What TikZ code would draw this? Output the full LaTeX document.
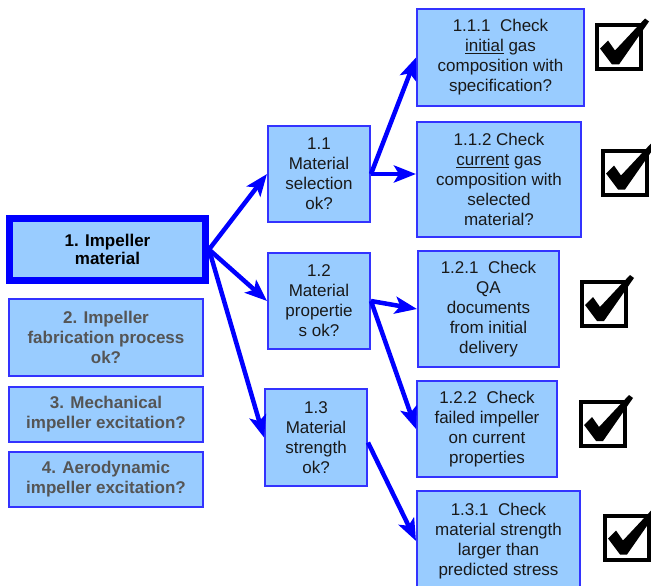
\documentclass[tikz,border=0pt]{standalone}
\usepackage{fontspec}
\setmainfont{Liberation Sans}
\usetikzlibrary{arrows.meta}

\definecolor{boxfill}{HTML}{99CCFF}
\definecolor{boxline}{HTML}{3333FF}
\definecolor{arrblue}{HTML}{0000FF}
\definecolor{greytext}{HTML}{555555}

\tikzset{
    box/.style={draw=boxline, fill=boxfill, line width=2pt, align=center, inner sep=0pt,
        text=black!90, font=\fontsize{17}{20}\selectfont},
    topbox/.style={box, draw=arrblue, line width=7pt, text=black, font=\bfseries\fontsize{17}{18.5}\selectfont},
    sidebox/.style={box, text=greytext, font=\bfseries\fontsize{17}{20}\selectfont},
    arr/.style={draw=arrblue, line width=4.5pt, -{Stealth[length=22pt, width=17pt, inset=5pt]}},
    chkbox/.style={draw=black, line width=4pt, minimum size=44pt, inner sep=0pt},
}

\begin{document}
\begin{tikzpicture}[x=1pt, y=-1pt]
    \useasboundingbox (0,0) rectangle (651,586);

    % left column
    \node[topbox, minimum width=196, minimum height=62] (imp1) at (107.5,249.5) {1. Impeller\\material};
    \node[sidebox, minimum width=194, minimum height=77] (imp2) at (106,337.5) {2. Impeller\\fabrication process\\ok?};
    \node[sidebox, minimum width=194, minimum height=55] (imp3) at (106,414.5) {3. Mechanical\\impeller excitation?};
    \node[sidebox, minimum width=194, minimum height=55] (imp4) at (106,479.5) {4. Aerodynamic\\impeller excitation?};

    % middle column
    \node[box, minimum width=102, minimum height=96] (sel) at (319,174) {1.1\\Material\\selection\\ok?};
    \node[box, minimum width=102, minimum height=96] (prop) at (319,301) {1.2\\Material\\propertie\\s ok?};
    \node[box, minimum width=102, minimum height=97] (str) at (316,437.5) {1.3\\Material\\strength\\ok?};

    % right column
    \node[box, minimum width=167, minimum height=97] (ini) at (500.5,57.5) {1.1.1\ \ Check\\\underline{initial} gas\\composition with\\specification?};
    \node[box, minimum width=164, minimum height=115] (cur) at (499,179.5) {1.1.2 Check\\\underline{current} gas\\composition with\\selected\\material?};
    \node[box, minimum width=141, minimum height=116] (qa) at (488.5,309) {1.2.1\ \ Check\\QA\\documents\\from initial\\delivery};
    \node[box, minimum width=140, minimum height=96] (fail) at (487,429) {1.2.2\ \ Check\\failed impeller\\on current\\properties};
    \node[box, minimum width=163, minimum height=100] (pred) at (498.5,541) {1.3.1\ \ Check\\material strength\\larger than\\predicted stress};

    % arrows
    \draw[arr] (imp1.east) -- (sel.west);
    \draw[arr] (imp1.east) -- (prop.west);
    \draw[arr] (imp1.east) -- (str.west);
    \draw[arr] (sel.east) -- (ini.west);
    \draw[arr] (sel.east) -- (cur.west |- sel.east);
    \draw[arr] (prop.east) -- (qa.west);
    \draw[arr] (prop.east) -- (fail.west);
    \draw[arr] ([yshift=-5]str.east) -- (pred.west);

    % ticked boxes
    \node[chkbox] (chk1) at (619,47.5) {};
    \node[chkbox] (chk2) at (625,172.5) {};
    \node[chkbox] (chk3) at (604,304) {};
    \node[chkbox] (chk4) at (603,424) {};
    \node[chkbox] (chk5) at (627,537.5) {};
    \foreach \i in {1,...,5}
        \fill[black, shift={(chk\i.north west)}] (5,25) -- (13,17) -- (20,27) -- (50,-5)
            -- (54,-2) -- (24,41) -- (17,41) -- cycle;
\end{tikzpicture}
\end{document}
